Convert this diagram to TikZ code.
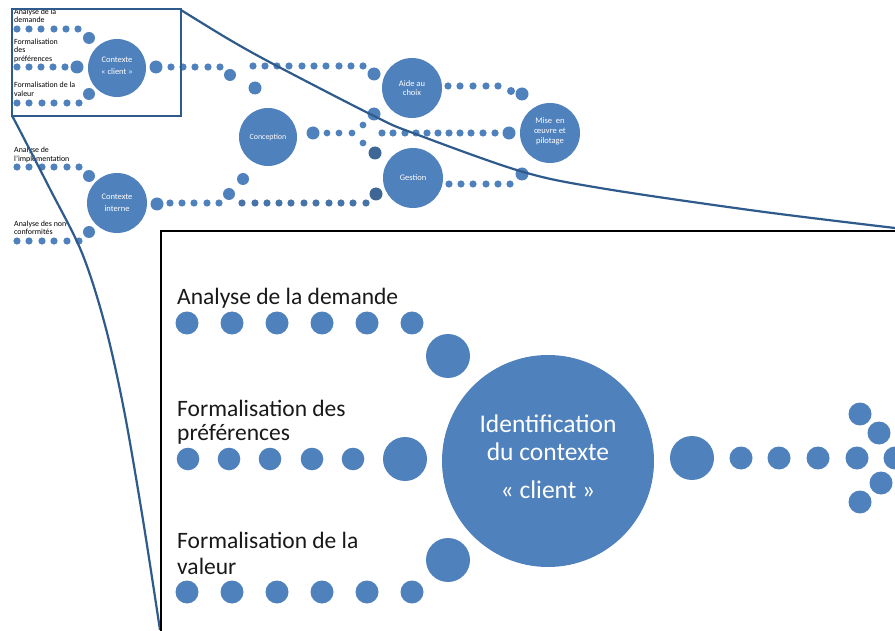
\documentclass[tikz,border=0pt]{standalone}
\usepackage{fontspec}
\setmainfont{Carlito}
\definecolor{dotblue}{HTML}{4F81BD}
\definecolor{dotdark}{HTML}{3E6796}
\definecolor{dotmid}{HTML}{4673A8}
\definecolor{linkblue}{HTML}{2F5A8C}
\begin{document}
\begin{tikzpicture}[x=1pt,y=-1pt,
  lab/.style={anchor=base west, inner sep=0pt, font=\fontsize{7.9}{8}\selectfont},
  biglab/.style={anchor=base west, inner sep=0pt, text=black!90, font=\fontsize{23.5}{26}\selectfont},
  ctext/.style={anchor=base, inner sep=0pt, text=white, font=\fontsize{8.5}{9}\selectfont},
  bigctext/.style={anchor=base, inner sep=0pt, text=white, font=\fontsize{25.5}{28}\selectfont},
  bubble/.style={circle, fill=dotblue, inner sep=0pt, minimum size=#1},
  zoomline/.style={linkblue, line width=2.2pt},
]
\useasboundingbox (0,0) rectangle (895,631);
\fill[white] (0,0) rectangle (895,631);

% ---------------- small overview diagram ----------------
% left inputs of Contexte client
\foreach \x in {17,29,41,54,66,78} \fill[dotblue] (\x,29) circle[radius=3.6pt];
\fill[dotblue] (89,38) circle[radius=6pt];
\foreach \x in {17,29,41,53,65} \fill[dotblue] (\x,67) circle[radius=3.6pt];
\fill[dotblue] (77,67) circle[radius=6.5pt];
\foreach \x in {17,29,42,54,67,79} \fill[dotblue] (\x,103) circle[radius=3.6pt];
\fill[dotblue] (89,94) circle[radius=6pt];
\node[bubble=58pt] (cclient) at (117,68) {};
\node[ctext] (cclientA) at (117,63) {Contexte};
\node[ctext] (cclientB) at (117,75) {« client »};

% from Contexte client
\fill[dotblue] (156,67) circle[radius=6.5pt];
\foreach \x in {171,183,195,208,220} \fill[dotblue] (\x,67) circle[radius=3.6pt];
\fill[dotblue] (230,75) circle[radius=6pt];
\fill[dotblue] (255,88) circle[radius=6.5pt];
\foreach \x in {253,265,277,289,302,314,326,339,351,363} \fill[dotblue] (\x,66) circle[radius=3.6pt];
\fill[dotblue] (374,74) circle[radius=6.5pt];

% Conception
\node[bubble=58pt] (concep) at (268,137) {};
\node[ctext, font=\fontsize{7.9}{9}\selectfont] (concepT) at (268,140) {Conception};
\fill[dotblue] (313,133) circle[radius=6.5pt];
\foreach \x in {327,339,352} \fill[dotblue] (\x,133) circle[radius=3.4pt];
\fill[dotblue] (363,125) circle[radius=3.4pt];
\fill[dotblue] (363,143) circle[radius=3.4pt];
\fill[dotblue] (374,114) circle[radius=6.5pt];
\fill[dotdark] (375,153) circle[radius=6.5pt];
\foreach \x in {382,393,405,416,427,438,449,460,471,483,495} \fill[dotblue] (\x,133) circle[radius=3.6pt];
\fill[dotblue] (509,133) circle[radius=6.5pt];

% Contexte interne
\foreach \x in {17,29,42,54,67,79} \fill[dotblue] (\x,167) circle[radius=3.6pt];
\fill[dotblue] (89,176) circle[radius=6pt];
\foreach \x in {17,29,42,54,67,79} \fill[dotblue] (\x,241) circle[radius=3.6pt];
\fill[dotblue] (89,232) circle[radius=6pt];
\node[bubble=60pt] (cint) at (117,203) {};
\node[ctext] (cintA) at (117,200) {Contexte};
\node[ctext] (cintB) at (117,212) {interne};
\fill[dotblue] (157,204) circle[radius=6.5pt];
\foreach \x in {170,182,194,207,219} \fill[dotblue] (\x,203) circle[radius=3.6pt];
\fill[dotblue] (229,194) circle[radius=6pt];
\fill[dotblue] (243,179) circle[radius=6pt];
\foreach \x in {242,255,267,279,291,304,316,329,341,353,366} \fill[dotmid] (\x,203) circle[radius=3.6pt];
\fill[dotdark] (376,194) circle[radius=6.5pt];

% Aide au choix
\node[bubble=60pt] (aide) at (412,88) {};
\node[ctext] (aideA) at (412,87) {Aide au};
\node[ctext] (aideB) at (412,96) {choix};
\foreach \x in {448,460,473,486,498} \fill[dotblue] (\x,86) circle[radius=3.6pt];
\fill[dotblue] (511,91) circle[radius=4pt];
\fill[dotblue] (522,94) circle[radius=6.5pt];

% Gestion
\node[bubble=60pt] (gest) at (413,178) {};
\node[ctext] (gestT) at (413,181) {Gestion};
\foreach \x in {449,461,473,486,498,510} \fill[dotblue] (\x,184) circle[radius=3.6pt];
\fill[dotblue] (522,174) circle[radius=6.5pt];

% Mise en oeuvre
\node[bubble=60pt] (mise) at (550,133) {};
\node[ctext] (miseA) at (550,124) {Mise~~en};
\node[ctext] (miseB) at (550,134) {œuvre et};
\node[ctext] (miseC) at (550,144) {pilotage};

% labels
\node[lab] (l1a) at (14,15) {Analyse de la};
\node[lab] (l1b) at (14,23) {demande};
\node[lab] (l2a) at (14,45) {Formalisation};
\node[lab] (l2b) at (14,53) {des};
\node[lab] (l2c) at (14,62) {préférences};
\node[lab] (l3a) at (14,88) {Formalisation de la};
\node[lab] (l3b) at (14,97) {valeur};
\node[lab] (l4a) at (14,153) {Analyse de};
\node[lab] (l4b) at (14,162) {l’implémentation};
\node[lab] (l5a) at (14,227) {Analyse des non-};
\node[lab] (l5b) at (14,235) {conformités};

% ---------------- zoom frame and lines ----------------
\draw[zoomline] (12,9) rectangle (181,116);
\draw[zoomline] plot[smooth, tension=0.55] coordinates {(181,10) (230,40) (277,66) (376,117) (413,133) (520,171) (600,188) (757,211) (895,228)};
\draw[zoomline] plot[smooth, tension=0.55] coordinates {(12,116) (17,125) (50,189) (82,253) (105,325) (124,410) (143,520) (160,630)};

% ---------------- enlarged inset ----------------
\draw[black, line width=1.2pt] (161,631) -- (161,231) -- (895,231);

\foreach \x in {187,232,277,322,367,412} \fill[dotblue] (\x,323) circle[radius=11.5pt];
\fill[dotblue] (448,356) circle[radius=22pt];
\foreach \x in {188,229,270,312,353} \fill[dotblue] (\x,459) circle[radius=11.3pt];
\fill[dotblue] (405,459) circle[radius=22pt];
\foreach \x in {187,232,277,322,367,412} \fill[dotblue] (\x,592) circle[radius=11.5pt];
\fill[dotblue] (448,560) circle[radius=22pt];

\node[bubble=212pt] (bigclient) at (548,461) {};
\node[bigctext] (bigA) at (548,432) {Identification};
\node[bigctext] (bigB) at (548,460) {du contexte};
\node[bigctext] (bigC) at (548,498) {« client »};

\fill[dotblue] (692,458) circle[radius=22pt];
\foreach \x in {741,779,818,857} \fill[dotblue] (\x,458) circle[radius=11.5pt];
\fill[dotblue] (895,458) circle[radius=11.5pt];
\fill[dotblue] (860,414) circle[radius=11.5pt];
\fill[dotblue] (879,433) circle[radius=11.5pt];
\fill[dotblue] (881,483) circle[radius=11.5pt];
\fill[dotblue] (860,502) circle[radius=11.5pt];

\node[biglab] (b1) at (177,305) {Analyse de la demande};
\node[biglab] (b2a) at (177,416) {Formalisation des};
\node[biglab] (b2b) at (177,440) {préférences};
\node[biglab] (b3a) at (177,548) {Formalisation de la};
\node[biglab] (b3b) at (177,574) {valeur};
\end{tikzpicture}
\end{document}
